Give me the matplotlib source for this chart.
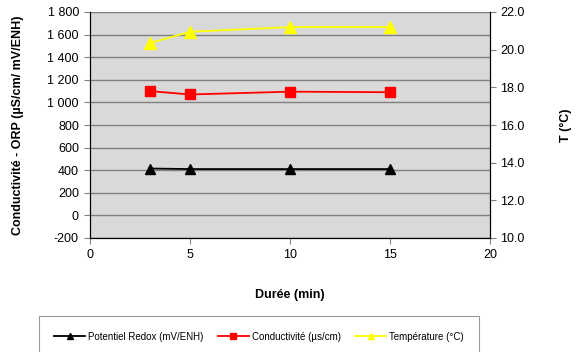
import matplotlib.pyplot as plt
from matplotlib.ticker import FuncFormatter, MultipleLocator

plt.rcParams['font.family'] = ['Liberation Sans', 'DejaVu Sans']

# data
duree = [3, 5, 10, 15]
redox = [415, 410, 410, 410]
conductivite = [1100, 1070, 1095, 1090]
temperature = [20.35, 20.95, 21.2, 21.2]

fig = plt.figure(figsize=(5.77, 3.52), dpi=100)
ax = fig.add_axes([90/577, 1-238/352, 400/577, 226/352])
ax.set_facecolor('#d9d9d9')

l1, = ax.plot(duree, redox, color='black', marker='^', markersize=7, lw=1.3, zorder=3)
l2, = ax.plot(duree, conductivite, color='#ff0000', marker='s', markersize=7, lw=1.3, zorder=3)

ax.set_xlim(0, 20)
ax.set_ylim(-200, 1800)
ax.xaxis.set_major_locator(MultipleLocator(5))
ax.yaxis.set_major_locator(MultipleLocator(200))
ax.yaxis.set_major_formatter(FuncFormatter(lambda v, p: f"{int(v):,}".replace(",", " ")))
ax.grid(axis='y', color='#808080', lw=1)
ax.set_axisbelow(True)
ax.tick_params(labelsize=9, length=4, width=0.8, color='#808080', pad=4)
ax.spines['top'].set_color('#808080')
for s in ['left', 'bottom', 'right']:
    ax.spines[s].set_color('black')
ax.set_xlabel("Durée (min)", fontsize=9, fontweight='bold', labelpad=20)
ax.set_ylabel("Conductivité - ORP (µS/cm/ mV/ENH)", fontsize=9, fontweight='bold', labelpad=17)

ax2 = ax.twinx()
l3, = ax2.plot(duree, temperature, color='#ffff00', marker='^', markersize=8, lw=1.3, zorder=3)
ax2.set_ylim(10, 22)
ax2.yaxis.set_major_locator(MultipleLocator(2))
ax2.yaxis.set_major_formatter(FuncFormatter(lambda v, p: f"{v:.1f}"))
ax2.tick_params(labelsize=9, length=4, width=0.8, color='#808080')
ax2.spines['top'].set_visible(False)
ax2.spines['right'].set_color('black')
ax2.set_ylabel("T (°C)", fontsize=9, fontweight='bold', labelpad=25)

leg = fig.legend([l1, l2, l3],
                 ["Potentiel Redox (mV/ENH)", "Conductivité (µs/cm)", "Température (°C)"],
                 loc='upper center', bbox_to_anchor=(259/577, 1-316/352), ncol=3,
                 fontsize=7, frameon=True, fancybox=False, edgecolor='#808080',
                 handlelength=3.2, handletextpad=0.3, markerscale=0.6,
                 columnspacing=1.45, borderpad=1.6, borderaxespad=0)
leg.get_frame().set_linewidth(0.8)

fig.savefig("out.png", dpi=100)
